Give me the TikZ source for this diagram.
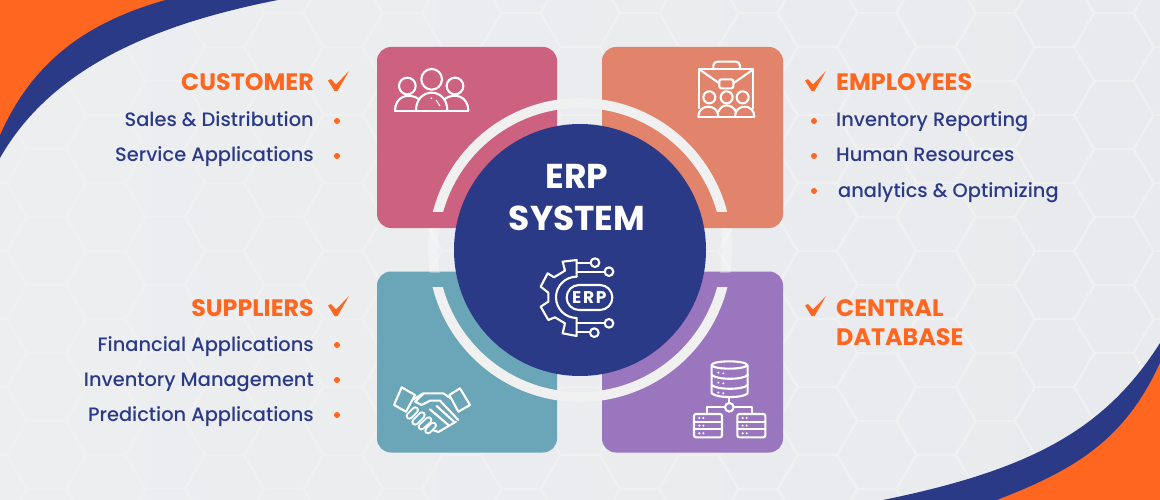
\documentclass[tikz,border=0pt]{standalone}
\usepackage{fontspec}
\setmainfont{Poppins}
\newfontfamily\itemfont{Poppins Medium}
\usepackage{xcolor}
\usetikzlibrary{positioning,calc}

\definecolor{navy}{HTML}{2B3A87}
\definecolor{flame}{HTML}{FF661F}
\definecolor{rose}{HTML}{CD6280}
\definecolor{salmon}{HTML}{E2846B}
\definecolor{lagoon}{HTML}{6AA5B8}
\definecolor{violet}{HTML}{9976BE}
\definecolor{ringgrey}{HTML}{F0F0F0}
\definecolor{pageleft}{HTML}{ECEEF0}
\definecolor{pageright}{HTML}{E8EAED}

\begin{document}
\begin{tikzpicture}[
            x=1pt, y=-1pt,
            tile/.style={rectangle, rounded corners=14pt, minimum width=180pt, minimum height=181pt},
            title/.style={text=flame, inner sep=0pt, font=\fontsize{23.8}{24}\selectfont\bfseries},
            item/.style={text=navy, inner sep=0pt, font=\fontsize{19.4}{24}\selectfont\itemfont},
            bullet/.style={circle, fill=flame, inner sep=0pt, minimum size=6pt},
            icon/.style={draw=white, line width=2.1pt, line join=round, line cap=round},
            finger/.style={draw=white, double=lagoon, line width=1.9pt, double distance=3.6pt, line cap=round},
            hexline/.style={draw=ringgrey, line width=2pt},
            tickmark/.pic={\fill[flame] (1,9.5) -- (4,8) -- (9,13.5) -- (22,0) -- (10.5,20) -- (7.5,20) -- cycle;}
            ]
            \useasboundingbox (0,0) rectangle (1160,500);

            % Background and hexagons
            \fill[left color=pageleft, right color=pageright] (0,0) rectangle (1160,500);
            \foreach \col in {-1,...,20}
                \foreach \row in {-1,...,8}
                    \draw[hexline] ({\col*59.3-12.8},{\row*68+13+34*mod(\col+2,2)})
                        ++(-20,-34) -- ++(40,0) -- ++(20,34) -- ++(-20,34) -- ++(-40,0) -- ++(-20,-34) -- cycle;

            % Corner swooshes
            \fill[navy] (0,0) -- (278,0) .. controls (150,25) and (50,70) .. (0,158) -- cycle;
            \fill[flame] (0,0) -- (165,0) .. controls (95,20) and (35,55) .. (0,135) -- cycle;
            \fill[navy] (1160,500) -- (1160,343) .. controls (1105,430) and (1030,470) .. (883,500) -- cycle;
            \fill[flame] (1160,500) -- (1160,363) .. controls (1125,440) and (1075,470) .. (997,500) -- cycle;

            % Tiles
            \node[tile, fill=rose] (customer) at (467,137.5) {};
            \node[tile, fill=salmon, minimum width=181pt] (employees) at (692.5,137.5) {};
            \node[tile, fill=lagoon] (suppliers) at (467,362) {};
            \node[tile, fill=violet, minimum width=181pt] (database) at (692.5,362) {};

            % Ring
            \begin{scope}
                \clip (400,228) rectangle (760,272);
                \draw[white, opacity=.3, line width=10pt] (580,250) circle[radius=147];
            \end{scope}
            \begin{scope}
                \clip (400,90) rectangle (760,211);
                \draw[ringgrey, line width=10pt] (580,250) circle[radius=147];
            \end{scope}
            \begin{scope}
                \clip (400,287) rectangle (760,410);
                \draw[ringgrey, line width=10pt] (580,250) circle[radius=147];
            \end{scope}

            % Hub
            \node[circle, fill=navy, minimum size=252pt, inner sep=0pt] (hub) at (580,250) {};
            \node[text=white, inner sep=0pt, font=\fontsize{34.5}{40}\selectfont\bfseries, anchor=base] (erp) at (577,188.5) {ERP};
            \node[text=white, inner sep=0pt, font=\fontsize{34.5}{40}\selectfont\bfseries, anchor=base] (system) at (577,230) {SYSTEM};

            % Left labels
            \node[title, anchor=base east] (custitle) at (314,91) {CUSTOMER};
            \node[item, anchor=base east] (sales) at (314,126.5) {Sales \& Distribution};
            \node[item, anchor=base east] (service) at (314,161.5) {Service Applications};
            \node[title, anchor=base east] (suptitle) at (314,316) {SUPPLIERS};
            \node[item, anchor=base east] (financial) at (314,351.5) {Financial Applications};
            \node[item, anchor=base east] (inventory) at (314,386.5) {Inventory Management};
            \node[item, anchor=base east] (prediction) at (314,421.5) {Prediction Applications};

            % Right labels
            \node[title, anchor=base west] (emptitle) at (836,91) {EMPLOYEES};
            \node[item, anchor=base west] (reporting) at (836,127) {Inventory Reporting};
            \node[item, anchor=base west] (human) at (836,162) {Human Resources};
            \node[item, anchor=base west] (analytics) at (838,197) {analytics \& Optimizing};
            \node[title, anchor=base west] (central) at (836,316) {CENTRAL};
            \node[title, anchor=base west] (dbtitle) at (836,345) {DATABASE};

            % Bullets and ticks
            \foreach \y in {121,156,345,380,415}
                \node[bullet] at (337,\y) {};
            \foreach \y in {121,156,191}
                \node[bullet] at (814,\y) {};
            \pic at (327,71) {tickmark};
            \pic at (327,296) {tickmark};
            \pic at (804,71) {tickmark};
            \pic at (804,296) {tickmark};

            % People icon
            \begin{scope}[shift={(370,40)}, scale=.3333]
                \draw[icon] (185,118) circle[radius=31];
                \draw[icon] (112,138) circle[radius=25];
                \draw[icon] (255,138) circle[radius=25];
                \draw[icon] (75,212) -- (295,212);
                \draw[icon] (138,212) .. controls (138,140) and (232,140) .. (232,212);
                \draw[icon] (75,212) .. controls (75,170) and (115,155) .. (148,178);
                \draw[icon] (295,212) .. controls (295,170) and (255,155) .. (222,178);
                \draw[white, line width=1pt] (198,180) -- (210,198);
                \fill[white] (184,175) circle[radius=3];
            \end{scope}

            % Briefcase icon
            \begin{scope}[shift={(660,40)}, scale=.3333]
                \draw[icon, rounded corners=4pt] (160,88) -- (160,65) -- (240,65) -- (240,88);
                \draw[icon] (118,205) -- (118,88) -- (280,88) -- (280,205);
                \draw[icon] (118,88) -- (178,130);
                \draw[icon] (280,88) -- (220,130);
                \draw[icon, rounded corners=2pt] (178,118) rectangle (220,145);
                \foreach \x in {148,200,248}
                    \draw[icon] (\x,172) circle[radius=18];
                \draw[icon] (115,230) -- (283,230);
                \draw[icon] (115,230) .. controls (115,190) and (175,190) .. (175,230);
                \draw[icon] (175,215) .. controls (185,190) and (215,190) .. (228,215);
                \draw[icon] (225,230) .. controls (225,190) and (283,190) .. (283,230);
            \end{scope}

            % Gear icon
            \begin{scope}[shift={(500,240)}, scale=.3333]
                \draw[icon] (230,110) -- (230,60) -- (188,65) -- (195,92) -- (162,112) -- (143,100) -- (122,140)
                    -- (145,158) -- (145,185) -- (122,200) -- (145,240) -- (165,232) -- (195,250)
                    -- (188,280) -- (230,288) -- (230,234);
                \draw[icon] (230,110) arc[start angle=270, end angle=90, radius=62];
                \draw[icon] (230,70) -- (272,70);
                \draw[icon] (230,95) -- (314,95);
                \draw[icon] (230,250) -- (314,250);
                \draw[icon] (230,277) -- (270,277);
                \foreach \x/\y in {285/68,327/95,327/250,283/278}
                    \draw[icon] (\x,\y) circle[radius=13];
                \draw[icon, rounded corners=12.4pt] (200,135) rectangle (337,210);
                \node[text=white, inner sep=0pt, font=\fontsize{17}{18}\selectfont\bfseries\addfontfeature{LetterSpace=10}] (erpmark) at (268,172) {ERP};
            \end{scope}

            % Handshake icon
            \begin{scope}[shift={(380,370)}, scale=.3333]
                \draw[icon] (65,52) -- (105,75) -- (78,125) -- (42,105) -- cycle;
                \draw[icon] (240,55) -- (270,105) -- (235,125) -- (208,75) -- cycle;
                \draw[icon] (100,88) -- (130,70) -- (190,70) -- (212,85);
                \draw[icon] (130,72) -- (105,95) -- (125,105) -- (150,92) -- (180,92) -- (235,150);
                \draw[icon] (150,118) -- (205,165);
                \draw[icon] (170,108) -- (222,155);
                \draw[icon] (158,180) -- (175,186) -- (228,155);
                \foreach \xa/\ya/\xb/\yb in {88/138/106/120, 105/156/126/135, 124/170/146/150, 144/182/160/166}
                    \draw[finger] (\xa,\ya) -- (\xb,\yb);
            \end{scope}

            % Database icon
            \begin{scope}[shift={(680,350)}, scale=.3333]
                \draw[icon] (148,45) ellipse[x radius=53, y radius=11];
                \draw[icon] (95,45) -- (95,130) .. controls (110,145) and (190,145) .. (203,130) -- (203,45);
                \draw[icon] (95,75) .. controls (110,90) and (190,90) .. (203,75);
                \draw[icon] (95,105) .. controls (110,120) and (190,120) .. (203,105);
                \draw[icon] (148,140) -- (148,160);
                \draw[icon] (148,172) circle[radius=13];
                \draw[icon] (135,172) -- (82,172) -- (82,192);
                \draw[icon] (161,172) -- (217,172) -- (217,192);
                \foreach \x in {42,172} {
                    \draw[icon, rounded corners=2pt] (\x,192) rectangle ++(84,70);
                    \draw[icon] (\x,215) -- ++(84,0);
                    \draw[icon] (\x,238) -- ++(84,0);
                    \foreach \y in {204,227,250}
                        \fill[white] (\x+16,\y) circle[radius=3.5] (\x+28,\y) circle[radius=3.5];
                }
                \foreach \y in {68,98,128}
                    \fill[white] (115,\y) circle[radius=3.5] (130,\y+2) circle[radius=3.5];
            \end{scope}
        \end{tikzpicture}
\end{document}
